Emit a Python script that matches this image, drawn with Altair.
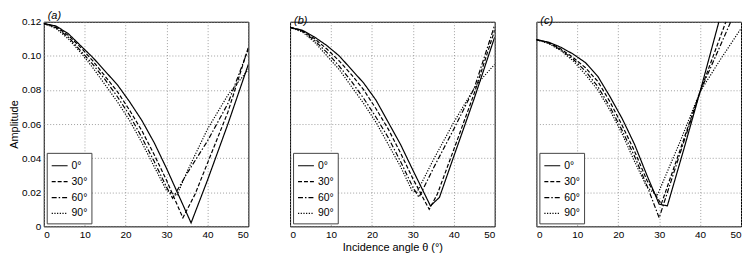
import altair as alt
import pandas as pd

SERIES = ["0°", "30°", "60°", "90°"]
DASHES = [[1, 0], [4, 2], [5, 2, 1.5, 2], [1.2, 1.5]]
X_TICKS = [0, 10, 20, 30, 40, 50]
Y_TICKS = [0, 0.02, 0.04, 0.06, 0.08, 0.10, 0.12]
PANEL_TITLES = ["(a)", "(b)", "(c)"]
X_TITLE = "Incidence angle θ (°)"
Y_TITLE = "Amplitude"

# Panel (a)
A_T0 = [0, 3, 6, 9, 12, 15, 18, 21, 24, 27, 30, 33, 36, 40, 45, 50]
A_V0 = [0.119, 0.1175, 0.113, 0.106, 0.099, 0.091, 0.083, 0.073, 0.062, 0.049, 0.034, 0.018, 0.002, 0.027, 0.060, 0.095]
A_T30 = [0, 3, 6, 9, 12, 15, 18, 21, 24, 27, 30, 34, 37, 40, 45, 50]
A_V30 = [0.119, 0.117, 0.112, 0.105, 0.097, 0.088, 0.079, 0.068, 0.056, 0.042, 0.027, 0.005, 0.019, 0.037, 0.067, 0.105]
A_T60 = [0, 3, 6, 9, 12, 15, 18, 21, 24, 27, 30, 31.5, 35, 40, 45, 50]
A_V60 = [0.119, 0.1165, 0.111, 0.103, 0.095, 0.086, 0.076, 0.065, 0.052, 0.038, 0.023, 0.0165, 0.031, 0.050, 0.072, 0.104]
A_T90 = [0, 3, 6, 9, 12, 15, 18, 21, 24, 27, 30, 32.5, 35, 40, 45, 50]
A_V90 = [0.119, 0.116, 0.110, 0.102, 0.093, 0.083, 0.073, 0.062, 0.049, 0.035, 0.021, 0.018, 0.032, 0.057, 0.077, 0.092]

# Panel (b)
B_T0 = [0, 3, 6, 9, 12, 15, 18, 21, 24, 27, 30, 34.3, 36.5, 40, 45, 50]
B_V0 = [0.1167, 0.115, 0.111, 0.106, 0.100, 0.092, 0.084, 0.074, 0.061, 0.048, 0.033, 0.012, 0.017, 0.041, 0.075, 0.111]
B_T30 = [0, 3, 6, 9, 12, 15, 18, 21, 24, 27, 30, 34, 36, 40, 45, 50]
B_V30 = [0.1167, 0.1148, 0.110, 0.104, 0.097, 0.089, 0.080, 0.069, 0.057, 0.043, 0.028, 0.010, 0.019, 0.045, 0.078, 0.115]
B_T60 = [0, 3, 6, 9, 12, 15, 18, 21, 24, 27, 30, 31.5, 35, 40, 45, 50]
B_V60 = [0.1167, 0.1145, 0.109, 0.102, 0.094, 0.085, 0.075, 0.064, 0.052, 0.038, 0.023, 0.017, 0.034, 0.057, 0.081, 0.118]
B_T90 = [0, 3, 6, 9, 12, 15, 18, 21, 24, 27, 29.8, 31, 35, 40, 45, 47, 50]
B_V90 = [0.1167, 0.114, 0.108, 0.100, 0.092, 0.082, 0.072, 0.061, 0.048, 0.035, 0.021, 0.020, 0.039, 0.061, 0.081, 0.087, 0.095]

# Panel (c)
C_T0 = [0, 3, 6, 9, 12, 15, 18, 21, 24, 27, 30, 32, 36, 40, 44.6]
C_V0 = [0.1095, 0.108, 0.105, 0.101, 0.096, 0.088, 0.076, 0.063, 0.048, 0.030, 0.013, 0.012, 0.045, 0.079, 0.12]
C_T30 = [0, 3, 6, 9, 12, 15, 18, 21, 24, 27, 30.5, 35, 40, 46.3]
C_V30 = [0.1095, 0.1078, 0.104, 0.099, 0.093, 0.085, 0.073, 0.059, 0.044, 0.027, 0.013, 0.044, 0.079, 0.12]
C_T60 = [0, 3, 6, 9, 12, 15, 18, 21, 24, 27, 30, 35, 40, 47.5]
C_V60 = [0.1095, 0.1075, 0.1035, 0.098, 0.091, 0.082, 0.070, 0.056, 0.041, 0.024, 0.005, 0.042, 0.079, 0.12]
C_T90 = [0, 3, 6, 9, 12, 15, 18, 21, 24, 27, 29.5, 35, 40, 45, 50]
C_V90 = [0.1095, 0.1072, 0.103, 0.097, 0.089, 0.080, 0.068, 0.054, 0.038, 0.023, 0.018, 0.049, 0.079, 0.098, 0.116]

PANELS = [
    [(A_T0, A_V0), (A_T30, A_V30), (A_T60, A_V60), (A_T90, A_V90)],
    [(B_T0, B_V0), (B_T30, B_V30), (B_T60, B_V60), (B_T90, B_V90)],
    [(C_T0, C_V0), (C_T30, C_V30), (C_T60, C_V60), (C_T90, C_V90)],
]

FONT = "Liberation Sans"


def build_df(panel):
    rows = []
    for name, (ts, vs) in zip(SERIES, panel):
        for t, v in zip(ts, vs):
            rows.append({"series": name, "theta": t, "amp": v})
    return pd.DataFrame(rows)


def make_panel(i):
    df = build_df(PANELS[i])
    if i == 0:
        yaxis = alt.Axis(values=Y_TICKS, title=Y_TITLE,
                         labelExpr="datum.value == 0 ? '0' : format(datum.value, '.2f')")
    else:
        yaxis = alt.Axis(values=Y_TICKS, labels=False, title=None)
    if i == 1:
        xaxis = alt.Axis(values=X_TICKS, title=X_TITLE)
    else:
        xaxis = alt.Axis(values=X_TICKS, title=None)
    return alt.Chart(df).mark_line(color="black", strokeWidth=1.2, clip=True).encode(
        x=alt.X("theta:Q", scale=alt.Scale(domain=[0, 50], nice=False, zero=False), axis=xaxis),
        y=alt.Y("amp:Q", scale=alt.Scale(domain=[0, 0.12], nice=False), axis=yaxis),
        strokeDash=alt.StrokeDash(
            "series:N",
            scale=alt.Scale(domain=SERIES, range=DASHES),
            sort=SERIES,
            legend=alt.Legend(title=None, orient="bottom-left", offset=3),
        ),
        detail="series:N",
    ).properties(
        width=206,
        height=206,
        title=alt.TitleParams(PANEL_TITLES[i], anchor="start", fontStyle="italic",
                              fontWeight="normal", fontSize=11, font=FONT, frame="group",
                              offset=-4, dx=4, color="black"),
    )


chart = alt.hconcat(make_panel(0), make_panel(1), make_panel(2), spacing=40).resolve_scale(
    strokeDash="independent"
).resolve_legend(strokeDash="independent").properties(
    padding={"left": 0, "top": 0, "right": 0, "bottom": 0}
).configure_view(
    stroke="black", strokeWidth=1
).configure_axis(
    grid=True, gridColor="#888", gridDash=[1, 2], gridWidth=0.8,
    domain=False, ticks=False, labelFont=FONT, labelFontSize=10, labelColor="black",
    labelPadding=3, titleFont=FONT, titleFontSize=11, titleFontWeight="normal",
    titleColor="black", titlePadding=2,
).configure_legend(
    fillColor="white", strokeColor="#444", padding=4, symbolType="stroke",
    symbolSize=256, symbolStrokeWidth=1.2, symbolStrokeColor="black",
    labelFont=FONT, labelFontSize=10.5, labelColor="black", rowPadding=1, labelOffset=3,
)

chart.save("out.html", embed_options={"renderer": "svg", "actions": False})
